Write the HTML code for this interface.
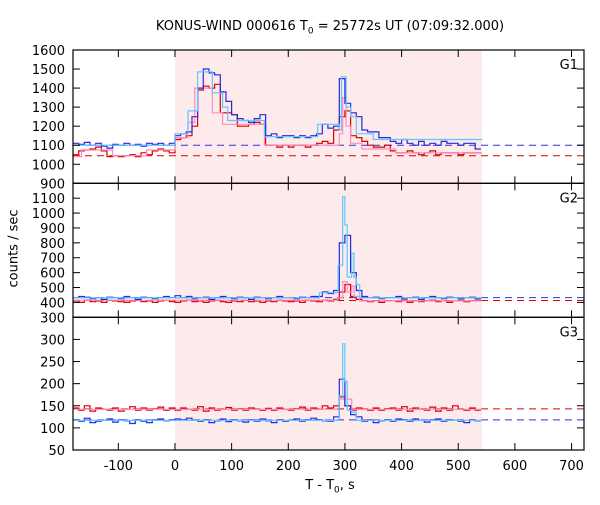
<!DOCTYPE html>
<html><head><meta charset="utf-8"><style>
body{margin:0;background:#fff;font-family:"Liberation Sans",sans-serif;}
svg text{font-family:"DejaVu Sans","Liberation Sans",sans-serif;font-size:13px;fill:#000;}
</style></head><body>
<svg id="c" width="600" height="500" xmlns="http://www.w3.org/2000/svg"></svg>
<script>
// ----- data -----
const binStart = -180, binWidth = 10;
const g1Blue = [1110,1105,1115,1100,1110,1095,1085,1105,1100,1110,1100,1105,1095,1110,1105,1110,1100,1110,
 1150,1160,1170,1250, 1400,1500,1480,1470, 1380,1330,1260,1240, 1230,1220,1240,1260, 1150,1160,1140,1150,
 1150,1140,1150,1140, 1150,1160,1210,1190, 1200,1450, 1320,1270, 1250,1180, 1170,1170,1140,1140,
 1120,1110,1130,1110,1100,1120,1100,1110,1100,1120,1110,1110,1100,1110,1110,1080];
const g1Red = [1050,1070,1075,1080,1090,1070,1040,1045,1040,1045,1050,1040,1060,1050,1070,1080,1070,1060,
 1130,1140,1150,1200, 1390,1410,1400,1420, 1270,1270,1260,1200, 1200,1210,1220,1210, 1100,1100,1090,1100,
 1090,1100,1100,1090, 1100,1110,1120,1110, 1180,1250, 1280,1150, 1140,1120, 1100,1090,1090,1100,
 1070,1060,1060,1070,1060,1050,1060,1070,1050,1060,1060,1060,1050,1060,1060,1060];
const g2Blue = [430,440,435,425,430,420,435,430,425,440,430,420,435,430,425,430,440,430,
 445,430,440,425, 430,435,420,430, 440,430,425,435, 430,420,435,430, 425,430,440,430,
 430,425,435,430, 440,440,470,460, 480,800, 850,600, 480,440, 430,435,425,430,
 430,440,425,430,435,420,430,440,430,425,435,430,425,430,435,425];
const g2Red = [410,400,415,405,410,400,415,410,405,400,410,415,405,410,400,410,415,405,
 400,410,415,405, 410,400,410,415, 405,400,410,405, 415,405,410,400, 410,405,415,410,
 405,410,400,415, 410,405,415,410, 420,470, 520,440, 420,410, 405,410,400,410,
 410,405,415,400,410,405,410,415,405,410,400,410,415,405,410,415];
const g3Blue = [118,115,122,112,115,117,120,113,118,116,110,118,115,112,118,120,116,118,
 120,118,122,117, 115,118,112,116, 120,114,118,116, 113,118,115,120, 116,112,118,115,
 117,120,115,118, 122,118,116,115, 125,210, 150,130, 125,115, 118,112,116,118,
 115,120,118,115,120,117,113,118,120,115,118,117,115,112,118,116];
const g3Red = [145,140,150,138,145,142,140,145,138,142,148,140,145,140,143,147,140,145,
 140,145,142,140, 148,138,145,140, 142,146,140,143, 140,145,142,140, 144,140,145,142,
 140,143,147,140, 145,142,150,145, 150,170, 150,140, 145,142, 140,145,140,143,
 145,140,148,138,145,142,140,147,138,145,140,150,142,140,145,140];
// block (coarse) series: edges and values
const g1LbEdges = [-180,0,23,40,66,84,93,158,252,290,294,302,310,320,350,542];
const g1LbVals  = [1100,1160,1280,1485,1375,1300,1230,1145,1210,1180,1460,1300,1250,1160,1130];
const g1PkEdges = [-180,-165,-110,-50,0,23,35,66,84,158,290,296,302,310,330,390,542];
const g1PkVals  = [1040,1075,1045,1075,1140,1220,1400,1270,1210,1100,1160,1350,1200,1110,1080,1060];
const g2LbEdges = [-180,255,288,296,300,304,312,316,320,326,542];
const g2LbVals  = [430,465,650,1110,920,570,730,570,520,430];
const g2PkEdges = [-180,288,296,304,312,316,326,542];
const g2PkVals  = [415,430,540,470,510,440,410];
const g3LbEdges = [-180,290,296,300,304,312,320,542];
const g3LbVals  = [117,172,290,205,140,135,117];
const g3PkEdges = [-180,290,312,542];
const g3PkVals  = [142,165,142];
const bgBlue = [1100,432,118];
const bgRed  = [1045,413,143];
const xTicks = [-100,0,100,200,300,400,500,600,700];
const g1Ticks = [900,1000,1100,1200,1300,1400,1500,1600];
const g2Ticks = [300,400,500,600,700,800,900,1000,1100];
const g3Ticks = [50,100,150,200,250,300];

// ----- layout -----
const svg = document.getElementById('c');
const NS = 'http://www.w3.org/2000/svg';
const L = 73, R = 584, X0 = -180, X1 = 722;
const xs = v => L + (v - X0) / (X1 - X0) * (R - L);
const panels = [
 {name:'g1', top:50, bot:183.3, min:900, max:1600, ticks:g1Ticks, blue:g1Blue, red:g1Red, lbE:g1LbEdges, lbV:g1LbVals, pkE:g1PkEdges, pkV:g1PkVals},
 {name:'g2', top:183.3, bot:317.3, min:300, max:1200, ticks:g2Ticks, blue:g2Blue, red:g2Red, lbE:g2LbEdges, lbV:g2LbVals, pkE:g2PkEdges, pkV:g2PkVals},
 {name:'g3', top:317.3, bot:450, min:50, max:350, ticks:g3Ticks, blue:g3Blue, red:g3Red, lbE:g3LbEdges, lbV:g3LbVals, pkE:g3PkEdges, pkV:g3PkVals}
];
function mk(tag, attrs, name, parent){
 const e = document.createElementNS(NS, tag);
 for (const k in attrs) e.setAttribute(k, attrs[k]);
 
 
 (parent || svg).appendChild(e);
 return e;
}
const shade = mk('rect', {x:xs(0), y:50, width:xs(542)-xs(0), height:400, fill:'#fdeaea'}, 'burst-interval-shade');

function stepPathBins(vals, ys){
 let d = '';
 vals.forEach((v,i)=>{
  const a = xs(binStart + i*binWidth), b = xs(binStart + (i+1)*binWidth), y = ys(v);
  d += (i===0 ? 'M' : 'L') + a.toFixed(1) + ',' + y.toFixed(1) + 'L' + b.toFixed(1) + ',' + y.toFixed(1);
 });
 return d;
}
function stepPathBlocks(edges, vals, ys){
 let d = '';
 vals.forEach((v,i)=>{
  const y = ys(v);
  d += (i===0 ? 'M' : 'L') + xs(edges[i]).toFixed(1) + ',' + y.toFixed(1) + 'L' + xs(edges[i+1]).toFixed(1) + ',' + y.toFixed(1);
 });
 return d;
}

panels.forEach((p, pi) => {
 const ys = v => p.bot - (v - p.min) / (p.max - p.min) * (p.bot - p.top);
 const g = mk('g', {}, p.name + '-panel');
 const clip = mk('clipPath', {id:'clip'+pi}, p.name + '-clip', g);
 mk('rect', {x:L, y:p.top, width:R-L, height:p.bot-p.top}, p.name + '-clip-rect', clip);
 const data = mk('g', {'clip-path':'url(#clip'+pi+')'}, p.name + '-series', g);
 mk('line', {x1:L, x2:R, y1:ys(bgBlue[pi]), y2:ys(bgBlue[pi]), stroke:'#3030e0', 'stroke-width':1, 'stroke-dasharray':'7,5'}, p.name + '-blue-background', data);
 mk('line', {x1:L, x2:R, y1:ys(bgRed[pi]), y2:ys(bgRed[pi]), stroke:'#e00000', 'stroke-width':1, 'stroke-dasharray':'7,5'}, p.name + '-red-background', data);
 mk('path', {d:stepPathBins(p.red, ys), fill:'none', stroke:'#d80000', 'stroke-width':1.2}, p.name + '-red-series', data);
 mk('path', {d:stepPathBlocks(p.pkE, p.pkV, ys), fill:'none', stroke:'#ff8cc0', 'stroke-width':1.2}, p.name + '-pink-blocks', data);
 mk('path', {d:stepPathBins(p.blue, ys), fill:'none', stroke:'#2828e0', 'stroke-width':1.2}, p.name + '-blue-series', data);
 mk('path', {d:stepPathBlocks(p.lbE, p.lbV, ys), fill:'none', stroke:'#5cc8ff', 'stroke-width':1.2}, p.name + '-lightblue-blocks', data);
 mk('rect', {x:L, y:p.top, width:R-L, height:p.bot-p.top, fill:'none', stroke:'#000', 'stroke-width':1.2}, p.name + '-frame', g);
 p.ticks.forEach(t => {
  const y = ys(t);
  mk('line', {x1:L, x2:L+7, y1:y, y2:y, stroke:'#000'}, p.name + '-ytick-left', g);
  mk('line', {x1:R-7, x2:R, y1:y, y2:y, stroke:'#000'}, p.name + '-ytick-right', g);
  const tx = mk('text', {x:L-8, y:y+5, 'text-anchor':'end'}, p.name + '-ytick-label', g);
  tx.textContent = t;
 });
 xTicks.forEach(t => {
  const x = xs(t);
  mk('line', {x1:x, x2:x, y1:p.top, y2:p.top+7, stroke:'#000'}, p.name + '-xtick-top', g);
  mk('line', {x1:x, x2:x, y1:p.bot-7, y2:p.bot, stroke:'#000'}, p.name + '-xtick-bottom', g);
 });
 const lab = mk('text', {x:R-6, y:p.top+19, 'text-anchor':'end'}, p.name + '-label', g);
 lab.textContent = p.name.toUpperCase();
});
xTicks.forEach(t => {
 const tx = mk('text', {x:xs(t), y:470, 'text-anchor':'middle'}, 'xtick-label');
 tx.textContent = t;
});
</script>
<div style="position:absolute;left:0;top:0;width:600px;height:500px;pointer-events:none;">
<div style="position:absolute;left:0;width:660px;top:19px;text-align:center;font:13px 'DejaVu Sans','Liberation Sans',sans-serif;">KONUS-WIND 000616 T<sub style="font-size:9px">0</sub> = 25772s UT (07:09:32.000)</div>
<div style="position:absolute;left:0;width:660px;top:478px;text-align:center;font:13px 'DejaVu Sans','Liberation Sans',sans-serif;">T - T<sub style="font-size:9px">0</sub>, s</div>
<div style="position:absolute;left:-36px;top:241px;width:100px;text-align:center;transform:rotate(-90deg);font:13px 'DejaVu Sans','Liberation Sans',sans-serif;">counts / sec</div>
</div>
</body></html>
